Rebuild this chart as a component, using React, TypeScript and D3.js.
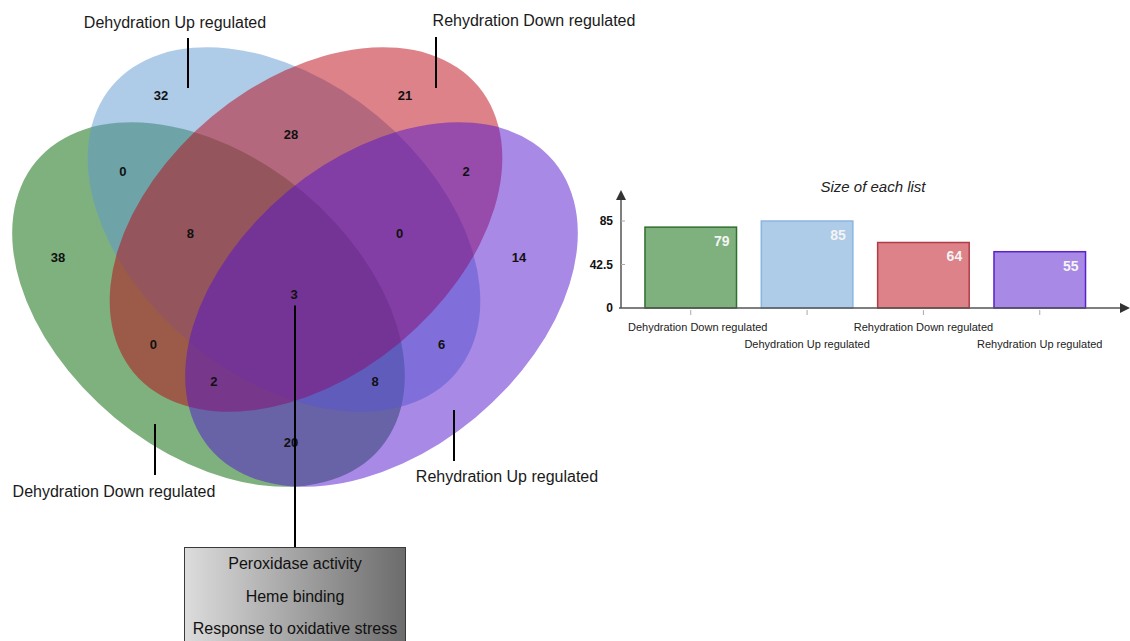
import React, { useMemo } from "react";
import * as d3 from "d3";

// ---- data ----
const setNames = [
  "Dehydration Down regulated",
  "Dehydration Up regulated",
  "Rehydration Down regulated",
  "Rehydration Up regulated",
];
const setColors = ["#006400", "#5d97d2", "#b90512", "#5214cd"];
const barStrokes = ["#2f6f2f", "#8ab6e2", "#b23c46", "#5a22c9"];
const listSizes = [79, 85, 64, 55];

// membership flags: DD, DU, RD, RU
const regionSets = [
  "1000", "0100", "0010", "0001",
  "1100", "0110", "0011", "1001", "1010", "0101",
  "1110", "0111", "1011", "1101",
  "1111",
];
const regionCounts = [38, 32, 21, 14, 0, 28, 2, 20, 0, 6, 8, 0, 2, 8, 3];
const yTickValues = [0, 42.5, 85];
const goTerms = ["Peroxidase activity", "Heme binding", "Response to oxidative stress"];

// ---- layout ----
const W = 1130;
const H = 641;
const vennCx = 295;
const vennCy = 267;
const ellA = 224;
const ellB = 147;
const ellRot = 39.65;
const ellipses = [
  { dx: -86.5, dy: 37.5, rot: ellRot },
  { dx: -11, dy: -37.5, rot: ellRot },
  { dx: 11, dy: -37.5, rot: -ellRot },
  { dx: 86.5, dy: 37.5, rot: -ellRot },
];
// small hand nudges of the region counts away from the computed anchor
const regionNudge: Record<string, [number, number]> = {
  "1000": [2, -3], "0100": [-21, 11], "0010": [-3, 11], "0001": [-15, -3],
  "1100": [-4, 3], "0110": [-4, 11], "0011": [3, 3], "1001": [-4, 1],
  "1010": [6, 5], "0101": [-1, 5], "1110": [-4, 9], "0111": [4, 9],
  "1011": [-9, -6], "1101": [8, -6], "1111": [-1, -10],
};

const setLabels = [
  { x: 114, y: 497, lx: 155, ly1: 424, ly2: 475 },
  { x: 175, y: 28, lx: 188, ly1: 38, ly2: 88 },
  { x: 534, y: 26, lx: 436, ly1: 37, ly2: 88 },
  { x: 507, y: 482, lx: 454, ly1: 410, ly2: 461 },
];

const labelFont = "'Liberation Sans', Arial, sans-serif";

function local(px: number, py: number, i: number) {
  const e = ellipses[i];
  const t = (e.rot * Math.PI) / 180;
  const x = px - (vennCx + e.dx);
  const y = py - (vennCy + e.dy);
  return { u: x * Math.cos(t) + y * Math.sin(t), v: -x * Math.sin(t) + y * Math.cos(t) };
}

function edge(px: number, py: number, i: number) {
  const { u, v } = local(px, py, i);
  const f = (u * u) / (ellA * ellA) + (v * v) / (ellB * ellB) - 1;
  const gx = (2 * u) / (ellA * ellA);
  const gy = (2 * v) / (ellB * ellB);
  const g = Math.sqrt(gx * gx + gy * gy);
  return { inside: f <= 0, d: Math.min(g > 0 ? Math.abs(f) / g : ellB, ellB) };
}

export default function App() {
  // anchor: the deepest point for one-set regions, the centroid for overlaps
  const regionLabels = useMemo(() => {
    const acc: Record<string, { sx: number; sy: number; n: number; px: number; py: number; pd: number }> = {};
    for (let y = 30; y < 500; y += 2) {
      for (let x = 0; x < 600; x += 2) {
        let key = "";
        let md = Infinity;
        for (let i = 0; i < 4; i++) {
          const r = edge(x, y, i);
          key += r.inside ? "1" : "0";
          md = Math.min(md, r.d);
        }
        const a = acc[key] || (acc[key] = { sx: 0, sy: 0, n: 0, px: 0, py: 0, pd: -1 });
        a.sx += x;
        a.sy += y;
        a.n += 1;
        if (md > a.pd) {
          a.pd = md;
          a.px = x;
          a.py = y;
        }
      }
    }
    return regionSets.map((k, i) => {
      const a = acc[k];
      const single = k.split("1").length - 1 === 1;
      const bx = a ? (single ? a.px : a.sx / a.n) : 0;
      const by = a ? (single ? a.py : a.sy / a.n) : 0;
      const [nx, ny] = regionNudge[k] || [0, 0];
      return { key: k, count: regionCounts[i], x: bx + nx, y: by + ny };
    });
  }, []);

  const centre = regionLabels.find((r) => r.key === "1111")!;

  const x = d3
    .scaleBand<string>()
    .domain(setNames)
    .range([621, 1109.5])
    .paddingInner(0.213)
    .paddingOuter(0.206);
  const y = d3.scaleLinear().domain([0, 85]).range([308, 221]);

  return (
    <svg
      width={W}
      height={H}
      style={{ position: "absolute", left: 0, top: 0, background: "#fff" }}
    >
      <defs>
        <linearGradient id="boxGrad" x1="0" x2="1" y1="0" y2="0">
          <stop offset="0" stopColor="#dcdcdc" />
          <stop offset="1" stopColor="#6c6c6c" />
        </linearGradient>
      </defs>

      {/* Venn ellipses */}
      <g>
        {ellipses.map((e, i) => (
          <ellipse
            key={i}
            cx={0}
            cy={0}
            rx={ellA}
            ry={ellB}
            transform={`translate(${vennCx + e.dx},${vennCy + e.dy}) rotate(${e.rot})`}
            fill={setColors[i]}
            fillOpacity={0.5}
          />
        ))}
      </g>

      {/* region counts */}
      <g fontFamily={labelFont} fontWeight="bold" fontSize={13} textAnchor="middle" fill="#111">
        {regionLabels.map((r) => (
          <text key={r.key} x={r.x} y={r.y} dy="0.35em">
            {r.count}
          </text>
        ))}
      </g>

      {/* set labels and leaders */}
      <g fontFamily={labelFont} fontSize={16} textAnchor="middle" fill="#1a1a1a">
        {setLabels.map((l, i) => (
          <g key={i}>
            <text x={l.x} y={l.y}>
              {setNames[i]}
            </text>
            <line x1={l.lx} x2={l.lx} y1={l.ly1} y2={l.ly2} stroke="#000" strokeWidth={2} />
          </g>
        ))}
      </g>

      {/* annotation of the shared region */}
      <line x1={centre.x + 1} x2={centre.x + 1} y1={centre.y + 11} y2={548} stroke="#000" strokeWidth={2} />
      <rect x={184.5} y={547.5} width={221} height={100} fill="url(#boxGrad)" stroke="#3a3a3a" />
      <g fontFamily={labelFont} fontSize={16} textAnchor="middle" fill="#111">
        {goTerms.map((t, i) => (
          <text key={t} x={295} y={569 + i * 32.5}>
            {t}
          </text>
        ))}
      </g>

      {/* bar chart */}
      <text
        x={873}
        y={192}
        textAnchor="middle"
        fontFamily="Arial, 'Liberation Sans', sans-serif"
        fontStyle="italic"
        fontSize={15}
        fill="#222"
      >
        Size of each list
      </text>
      <g>
        {setNames.map((n, i) => (
          <rect
            key={n}
            x={x(n)}
            y={y(listSizes[i])}
            width={x.bandwidth()}
            height={y(0) - y(listSizes[i])}
            fill={setColors[i]}
            fillOpacity={0.5}
            stroke={barStrokes[i]}
            strokeWidth={1.5}
          />
        ))}
      </g>
      <g fontFamily="Arial, 'Liberation Sans', sans-serif" fontWeight="bold" fontSize={14} fill="#f4f4f4" textAnchor="end">
        {setNames.map((n, i) => (
          <text key={n} x={(x(n) || 0) + x.bandwidth() - 7} y={y(listSizes[i]) + 19}>
            {listSizes[i]}
          </text>
        ))}
      </g>
      {/* axes */}
      <g stroke="#555" strokeWidth={1.5}>
        <line x1={621} x2={621} y1={y(0)} y2={199} />
        <line x1={619} x2={1122} y1={y(0)} y2={y(0)} />
      </g>
      <polygon points="616,200 626,200 621,190" fill="#333" />
      <polygon points="1120,303 1120,313 1130,308" fill="#333" />
      <g stroke="#aaa" strokeWidth={1}>
        {yTickValues.slice(1).map((t) => (
          <line key={t} x1={621} x2={625} y1={y(t)} y2={y(t)} />
        ))}
        {setNames.map((n) => (
          <line key={n} x1={(x(n) || 0) + x.bandwidth() / 2} x2={(x(n) || 0) + x.bandwidth() / 2} y1={310} y2={315} />
        ))}
      </g>
      <g fontFamily="Arial, 'Liberation Sans', sans-serif" fontWeight="bold" fontSize={12} fill="#111" textAnchor="end">
        {yTickValues.map((t) => (
          <text key={t} x={613} y={y(t)} dy="0.35em">
            {t}
          </text>
        ))}
      </g>
      <g fontFamily={labelFont} fontSize={11} fill="#222" textAnchor="middle">
        {setNames.map((n, i) => (
          <text key={n} x={(x(n) || 0) + x.bandwidth() / 2 + (i === 0 ? 7 : 0)} y={i % 2 === 0 ? 331 : 348}>
            {n}
          </text>
        ))}
      </g>
    </svg>
  );
}
